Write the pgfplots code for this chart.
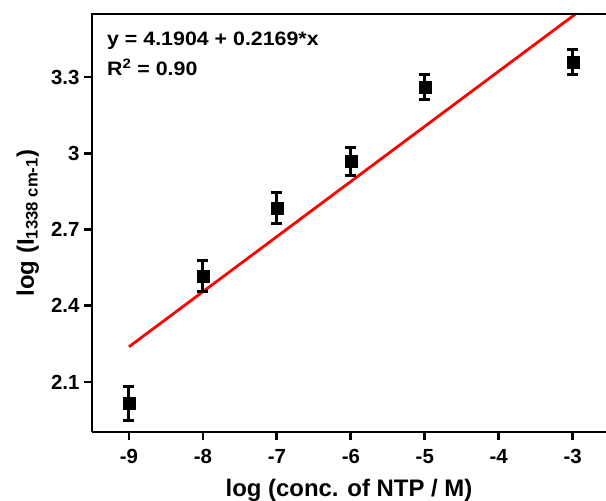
\documentclass[border=0pt]{standalone}
\usepackage{pgfplots}
\pgfplotsset{compat=1.18}
\usepackage{graphicx}
\usepackage{fontspec}
\setmainfont{Liberation Sans}
\begin{document}
\begin{tikzpicture}
\begin{axis}[
  at={(0,0)}, anchor=south west,
  scale only axis, width=514bp, height=418bp,
  xmin=-9.5, xmax=-2.55, ymin=1.903, ymax=3.548,
  axis x line*=bottom, axis y line*=left,
  axis line style={line width=3pt, -},
  tick align=outside, tick style={line width=2.8pt, black},
  major tick length=8bp,
  xtick={-9,-8,-7,-6,-5,-4,-3},
  ytick={2.1,2.4,2.7,3,3.3},
  yticklabels={2.1,2.4,2.7,3,3.3},
  xticklabels={-9,-8,-7,-6,-5,-4,-3},
  ticklabel style={font=\fontsize{20.5}{24}\selectfont\bfseries},
  xticklabel style={yshift=-6bp},
  yticklabel style={xshift=-1bp},
  label style={font=\fontsize{24}{28}\selectfont\bfseries},
  xlabel={log (conc. of NTP / M)},
  ylabel={log (I\textsubscript{1338 cm-1})},
  xlabel style={at={(axis description cs:0.5,0)}, anchor=base, yshift=-64bp},
  ylabel style={at={(axis description cs:-0.125,0.5)}, anchor=center},
  clip=true,
]
\addplot[red, line width=2.8pt] coordinates {(-9,2.2383) (-2.55,3.6373)};
\addplot[black, only marks, mark=square*, mark size=6bp,
  error bars/.cd, y dir=both, y explicit,
  error bar style={line width=3pt},
  error mark options={rotate=90, mark size=5.5bp, line width=3pt}]
  coordinates {
  (-9,2.017) +- (0,0.067)
  (-8,2.518) +- (0,0.061)
  (-7,2.783) +- (0,0.061)
  (-6,2.969) +- (0,0.055)
  (-5,3.260) +- (0,0.050)
  (-3,3.360) +- (0,0.050)
  };
\node[anchor=base west, font=\fontsize{19.5}{22}\selectfont\bfseries, inner sep=0pt]
  at (rel axis cs:0,1) [xshift=15bp, yshift=-32bp] {\scalebox{1.1}[1]{y = 4.1904 + 0.2169*x}};
\node[anchor=base west, font=\fontsize{19.5}{22}\selectfont\bfseries, inner sep=0pt]
  at (rel axis cs:0,1) [xshift=15bp, yshift=-62bp] {\scalebox{1.1}[1]{R\textsuperscript{2} = 0.90}};
\end{axis}
\draw[line width=3pt] (-1.5pt,418bp) -- (520bp,418bp);
\pgfresetboundingbox
\path[use as bounding box] (-92bp,-69bp) rectangle (514bp,432bp);
\end{tikzpicture}
\end{document}
